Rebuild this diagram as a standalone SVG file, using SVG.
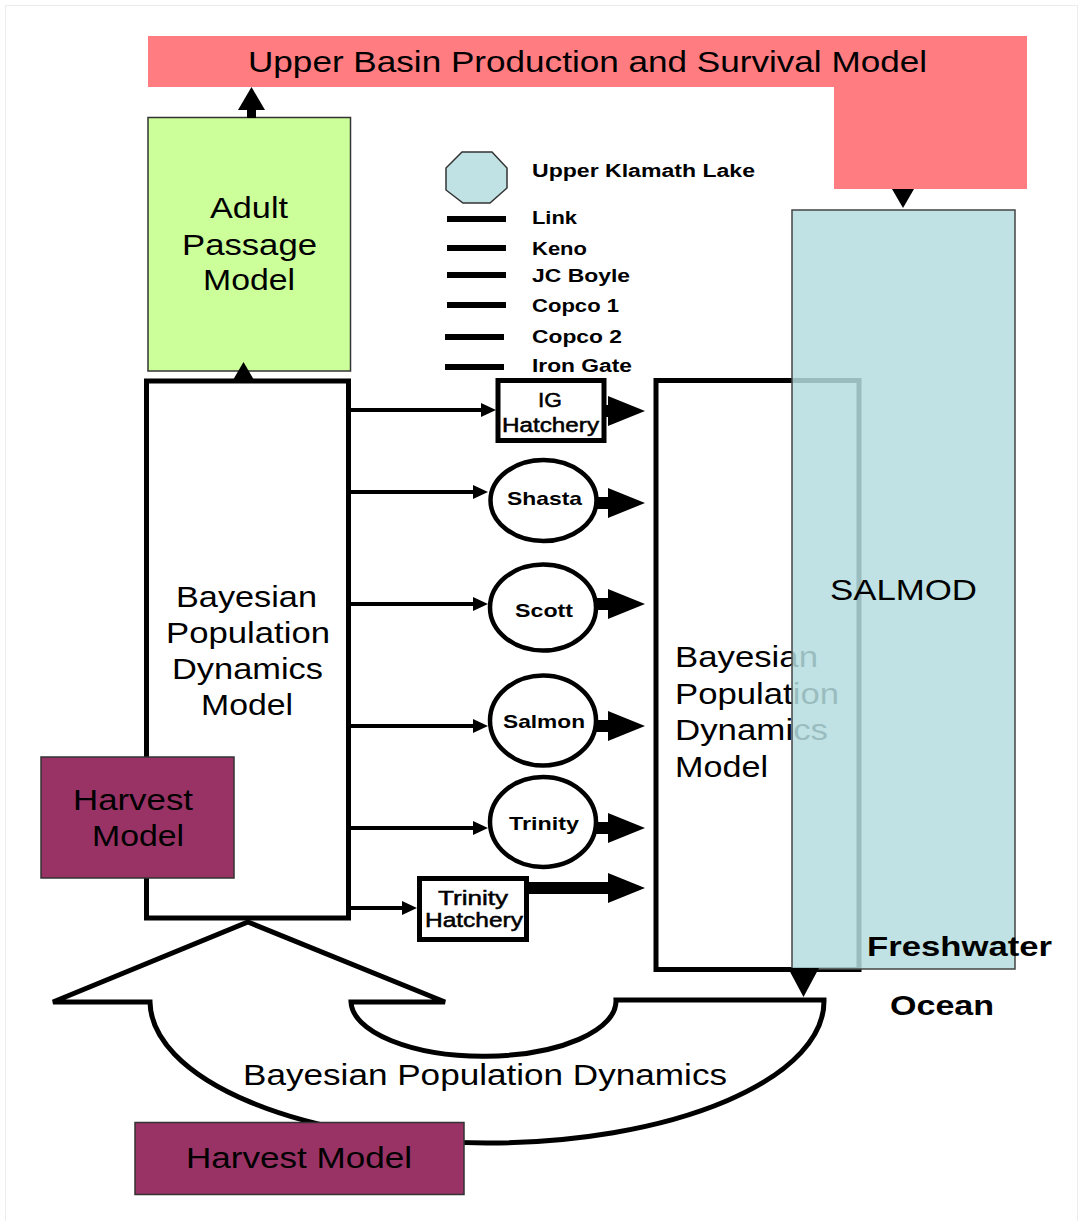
<svg xmlns="http://www.w3.org/2000/svg" width="1083" height="1221" viewBox="0 0 1083 1221">
<style>
text{font-family:"Liberation Sans",Arial,sans-serif;fill:#000}
.big{font-size:29px}
.bold{font-weight:bold}
.sm{font-size:19px}
.hat{font-size:20px;stroke:#000;stroke-width:0.5}
.leg{font-size:18px;font-weight:bold}
.box{fill:#fff;stroke:#000;stroke-width:5}
.thin{stroke:#000;stroke-width:4;fill:none}
.thick{stroke:#000;stroke-width:12;fill:none}
.harv{fill:#993366;stroke:#333;stroke-width:1.5}
.lg{stroke:#000;stroke-width:6}
</style>
<defs>
<marker id="ah" markerUnits="userSpaceOnUse" markerWidth="16" markerHeight="16" refX="0" refY="7" orient="auto"><path d="M0,0 L15,7 L0,14 Z" fill="#000"/></marker>
<marker id="AH" markerUnits="userSpaceOnUse" markerWidth="40" markerHeight="32" refX="0" refY="15" orient="auto"><path d="M0,0 L37,15 L0,30 Z" fill="#000"/></marker>
<marker id="UP" markerUnits="userSpaceOnUse" markerWidth="25" markerHeight="28" refX="0" refY="13.5" orient="auto"><path d="M0,0 L23,13.5 L0,27 Z" fill="#000"/></marker>
</defs>
<rect x="5.5" y="5.5" width="1072" height="1230" fill="none" stroke="#ececec" stroke-width="1"/>

<g id="upper-basin">
<path d="M148 36 H1027 V189 H834 V87 H148 Z" fill="#ff7c80"/>
<text class="big" x="248" y="72" style="font-size:30px" textLength="679" lengthAdjust="spacingAndGlyphs">Upper Basin Production and Survival Model</text>
</g>

<g id="adult-passage">
<rect x="148" y="117.5" width="202.5" height="253.5" fill="#ccff99" stroke="#333" stroke-width="1.5"/>
<text class="big" x="210" y="218" textLength="78" lengthAdjust="spacingAndGlyphs">Adult</text>
<text class="big" x="182" y="255" textLength="135" lengthAdjust="spacingAndGlyphs">Passage</text>
<text class="big" x="203" y="290" textLength="92" lengthAdjust="spacingAndGlyphs">Model</text>
</g>

<g id="bpdm-left">
<rect class="box" x="146.5" y="381" width="202" height="537"/>
<text class="big" x="176" y="607" textLength="141" lengthAdjust="spacingAndGlyphs">Bayesian</text>
<text class="big" x="166" y="643" textLength="164" lengthAdjust="spacingAndGlyphs">Population</text>
<text class="big" x="172" y="679" textLength="151" lengthAdjust="spacingAndGlyphs">Dynamics</text>
<text class="big" x="201" y="715" textLength="92" lengthAdjust="spacingAndGlyphs">Model</text>
</g>

<g id="harvest-left">
<rect class="harv" x="41" y="757" width="193" height="121"/>
<text class="big" x="73" y="810" textLength="120" lengthAdjust="spacingAndGlyphs">Harvest</text>
<text class="big" x="92" y="846" textLength="92" lengthAdjust="spacingAndGlyphs">Model</text>
</g>

<g id="bpdm-right">
<rect class="box" x="656" y="380.5" width="203" height="589"/>
<text class="big" x="675" y="667" textLength="143" lengthAdjust="spacingAndGlyphs">Bayesian</text>
<text class="big" x="675" y="704" textLength="164" lengthAdjust="spacingAndGlyphs">Population</text>
<text class="big" x="675" y="740" textLength="153" lengthAdjust="spacingAndGlyphs">Dynamics</text>
<text class="big" x="675" y="777" textLength="93" lengthAdjust="spacingAndGlyphs">Model</text>
</g>

<g id="salmod">
<rect x="792" y="210" width="223" height="759" fill="#b5dddf" fill-opacity="0.85" stroke="#444" stroke-width="1.5"/>
<text class="big" x="830" y="600" textLength="147" lengthAdjust="spacingAndGlyphs">SALMOD</text>
</g>

<g id="freshwater-ocean">
<text class="big bold" x="867" y="956" style="font-size:28px" textLength="185" lengthAdjust="spacingAndGlyphs">Freshwater</text>
<text class="big bold" x="890" y="1015" style="font-size:28px" textLength="104" lengthAdjust="spacingAndGlyphs">Ocean</text>
</g>

<g id="bayesian-cycle">
<path d="M248 922 L445 1002 L351 1002 A132 55 0 0 0 616 1000 L824 1000 A337 142 0 0 1 150 1002 L53 1002 Z" fill="#fff" stroke="#000" stroke-width="5" stroke-linejoin="miter"/>
<text class="big" x="243" y="1085" textLength="484" lengthAdjust="spacingAndGlyphs">Bayesian Population Dynamics</text>
</g>

<g id="harvest-bottom">
<rect class="harv" x="135" y="1122.5" width="329" height="72"/>
<text class="big" x="186" y="1168" textLength="226" lengthAdjust="spacingAndGlyphs">Harvest Model</text>
</g>

<g id="legend">
<polygon points="462,152 492,152 507,168 507,188 490,203 463,203 446,190 446,168" fill="#c0e2e4" stroke="#333" stroke-width="1.5"/>
<text class="leg" x="532" y="177" textLength="223" lengthAdjust="spacingAndGlyphs">Upper Klamath Lake</text>
<line class="lg" x1="447" y1="219" x2="506" y2="219"/>
<line class="lg" x1="447" y1="248" x2="506" y2="248"/>
<line class="lg" x1="447" y1="275" x2="506" y2="275"/>
<line class="lg" x1="447" y1="305" x2="506" y2="305"/>
<line class="lg" x1="445" y1="337" x2="504" y2="337"/>
<line class="lg" x1="445" y1="367" x2="504" y2="367"/>
<text class="leg" x="532" y="224" textLength="45" lengthAdjust="spacingAndGlyphs">Link</text>
<text class="leg" x="532" y="255" textLength="55" lengthAdjust="spacingAndGlyphs">Keno</text>
<text class="leg" x="532" y="282" textLength="98" lengthAdjust="spacingAndGlyphs">JC Boyle</text>
<text class="leg" x="532" y="312" textLength="87" lengthAdjust="spacingAndGlyphs">Copco 1</text>
<text class="leg" x="532" y="343" textLength="90" lengthAdjust="spacingAndGlyphs">Copco 2</text>
<text class="leg" x="532" y="372" textLength="100" lengthAdjust="spacingAndGlyphs">Iron Gate</text>
</g>

<g id="ig-hatchery">
<rect class="box" x="498" y="380.5" width="106" height="60" stroke-width="5.5"/>
<text class="hat" x="538" y="407" textLength="24" lengthAdjust="spacingAndGlyphs">IG</text>
<text class="hat" x="502" y="432" textLength="97" lengthAdjust="spacingAndGlyphs">Hatchery</text>
</g>

<g id="shasta">
<ellipse cx="543.5" cy="500.5" rx="53" ry="40.5" fill="#fff" stroke="#000" stroke-width="4.5"/>
<text class="sm bold" x="507" y="505" textLength="75" lengthAdjust="spacingAndGlyphs">Shasta</text>
</g>
<g id="scott">
<ellipse cx="543" cy="607.5" rx="53" ry="43" fill="#fff" stroke="#000" stroke-width="4.5"/>
<text class="sm bold" x="515" y="617" textLength="58" lengthAdjust="spacingAndGlyphs">Scott</text>
</g>
<g id="salmon">
<ellipse cx="543" cy="720.5" rx="53" ry="45" fill="#fff" stroke="#000" stroke-width="4.5"/>
<text class="sm bold" x="503" y="728" textLength="82" lengthAdjust="spacingAndGlyphs">Salmon</text>
</g>
<g id="trinity">
<ellipse cx="543" cy="822" rx="53" ry="45" fill="#fff" stroke="#000" stroke-width="4.5"/>
<text class="sm bold" x="509" y="830" textLength="70" lengthAdjust="spacingAndGlyphs">Trinity</text>
</g>

<g id="trinity-hatchery">
<rect class="box" x="419.5" y="878.5" width="107" height="61"/>
<text class="hat" x="438" y="905" textLength="70" lengthAdjust="spacingAndGlyphs">Trinity</text>
<text class="hat" x="425" y="927" textLength="98" lengthAdjust="spacingAndGlyphs">Hatchery</text>
</g>

<g id="connectors">
<line x1="251.5" y1="118" x2="251.5" y2="110" stroke="#000" stroke-width="9" marker-end="url(#UP)"/>
<polygon points="233,380 254,380 243.5,362" fill="#000"/>
<polygon points="892,189 914,189 903,208" fill="#000"/>
<polygon points="788,968 819,968 803.5,997" fill="#000"/>
<line class="thin" x1="351" y1="410" x2="481" y2="410" marker-end="url(#ah)"/>
<line class="thin" x1="351" y1="492" x2="473" y2="492" marker-end="url(#ah)"/>
<line class="thin" x1="351" y1="604" x2="473" y2="604" marker-end="url(#ah)"/>
<line class="thin" x1="351" y1="726" x2="473" y2="726" marker-end="url(#ah)"/>
<line class="thin" x1="351" y1="828" x2="473" y2="828" marker-end="url(#ah)"/>
<line class="thin" x1="351" y1="908" x2="402" y2="908" marker-end="url(#ah)"/>
<line class="thick" x1="606" y1="411" x2="608" y2="411" stroke-width="2" marker-end="url(#AH)"/>
<line class="thick" x1="596" y1="503" x2="608" y2="503" marker-end="url(#AH)"/>
<line class="thick" x1="595" y1="604" x2="608" y2="604" marker-end="url(#AH)"/>
<line class="thick" x1="595" y1="726" x2="608" y2="726" marker-end="url(#AH)"/>
<line class="thick" x1="595" y1="828" x2="608" y2="828" marker-end="url(#AH)"/>
<line class="thick" x1="529" y1="888" x2="608" y2="888" stroke-width="10" marker-end="url(#AH)"/>
</g>
</svg>
